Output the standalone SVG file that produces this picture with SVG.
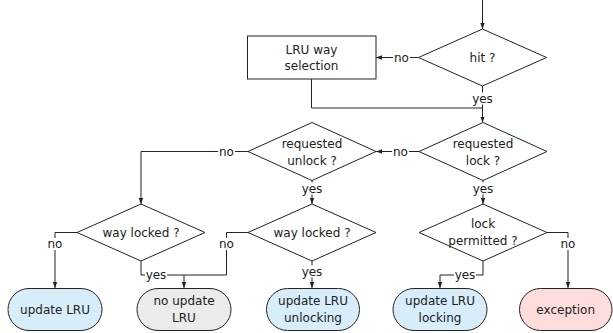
<svg xmlns="http://www.w3.org/2000/svg" width="613" height="333" viewBox="0 0 613 333">
<style>
text{font-family:"DejaVu Sans","Liberation Sans",sans-serif;font-size:12px;fill:#222;text-anchor:middle}
.shape{stroke:#222;stroke-width:1;fill:#fff}
.blue{fill:#d7edfa}
.gray{fill:#ebebeb}
.pink{fill:#fddcdc}
.conn path{fill:none;stroke:#222;stroke-width:1}
.arr{marker-end:url(#ah)}
.lbg{fill:#fff}
</style>
<defs>
<marker id="ah" viewBox="0 0 6 6" refX="6" refY="3" markerWidth="6" markerHeight="6" markerUnits="userSpaceOnUse" orient="auto">
<path d="M0,0.8 L6,3 L0,5.2 z" fill="#222"/>
</marker>
</defs>
<g id="connectors" class="conn">
<path class="arr" d="M482.5,0 V29"/>
<path class="arr" d="M418.5,57.5 H376"/>
<path class="arr" d="M482.5,86 V122.5"/>
<path d="M311.5,79 V108 H482.5"/>
<path class="arr" d="M419,151.5 H376"/>
<path class="arr" d="M248,151.5 H141 V204"/>
<path class="arr" d="M312,180 V204"/>
<path class="arr" d="M483,180 V204"/>
<path class="arr" d="M77,232.5 H55 V288"/>
<path class="arr" d="M141,261 V275 H184 V288"/>
<path d="M248,232.5 H226.5 V275 H184"/>
<path class="arr" d="M312,261 V288"/>
<path class="arr" d="M483,261 V275 H440 V288"/>
<path class="arr" d="M547,232.5 H568 V288"/>
<g id="labels">
<rect class="lbg" x="393" y="51.5" width="17" height="12"/><text x="401.5" y="61.5">no</text>
<rect class="lbg" x="471.5" y="92.5" width="22" height="12"/><text x="482.5" y="102.5">yes</text>
<rect class="lbg" x="392" y="145.5" width="17" height="12"/><text x="400.5" y="155.5">no</text>
<rect class="lbg" x="218" y="145.5" width="17" height="12"/><text x="226.5" y="155.5">no</text>
<rect class="lbg" x="301" y="182.5" width="22" height="12"/><text x="312" y="192.5">yes</text>
<rect class="lbg" x="472" y="182.5" width="22" height="12"/><text x="483" y="192.5">yes</text>
<rect class="lbg" x="46.5" y="238" width="17" height="12"/><text x="55" y="248">no</text>
<rect class="lbg" x="145" y="269" width="22" height="12"/><text x="156" y="279">yes</text>
<rect class="lbg" x="218" y="238" width="17" height="12"/><text x="226.5" y="248">no</text>
<rect class="lbg" x="301" y="265.5" width="22" height="12"/><text x="312" y="275.5">yes</text>
<rect class="lbg" x="454" y="269" width="22" height="12"/><text x="465" y="279">yes</text>
<rect class="lbg" x="559.5" y="238" width="17" height="12"/><text x="568" y="248">no</text>
</g>
</g>
<g id="hit">
<polygon class="shape" points="482.5,29 546.5,57.5 482.5,86 418.5,57.5"/>
<text x="482.5" y="62">hit ?</text>
</g>
<g id="lru-way-selection">
<rect class="shape" x="247.5" y="36" width="128.5" height="43"/>
<text x="311.5" y="54">LRU way</text>
<text x="311.5" y="70">selection</text>
</g>
<g id="requested-lock">
<polygon class="shape" points="483,122.5 547,151.5 483,180.5 419,151.5"/>
<text x="483" y="148">requested</text>
<text x="483" y="165">lock ?</text>
</g>
<g id="requested-unlock">
<polygon class="shape" points="312,122.5 376,151.5 312,180.5 248,151.5"/>
<text x="312" y="148">requested</text>
<text x="312" y="165">unlock ?</text>
</g>
<g id="way-locked-left">
<polygon class="shape" points="141,204 205,232.5 141,261 77,232.5"/>
<text x="141" y="237">way locked ?</text>
</g>
<g id="way-locked-right">
<polygon class="shape" points="312,204 376,232.5 312,261 248,232.5"/>
<text x="312" y="237">way locked ?</text>
</g>
<g id="lock-permitted">
<polygon class="shape" points="483,204 547,232.5 483,261 419,232.5"/>
<text x="483" y="228">lock</text>
<text x="483" y="245">permitted ?</text>
</g>
<g id="update-lru">
<rect class="shape blue" x="8" y="288.5" width="94" height="42" rx="21"/>
<text x="55" y="313.5">update LRU</text>
</g>
<g id="no-update-lru">
<rect class="shape gray" x="137" y="288.5" width="94" height="42" rx="21"/>
<text x="184" y="305">no update</text>
<text x="184" y="322">LRU</text>
</g>
<g id="update-lru-unlocking">
<rect class="shape blue" x="266.5" y="288.5" width="93" height="42" rx="21"/>
<text x="313" y="305">update LRU</text>
<text x="313" y="322">unlocking</text>
</g>
<g id="update-lru-locking">
<rect class="shape blue" x="393" y="288.5" width="94" height="42" rx="21"/>
<text x="440" y="305">update LRU</text>
<text x="440" y="322">locking</text>
</g>
<g id="exception">
<rect class="shape pink" x="519.5" y="288.5" width="92.5" height="42" rx="21"/>
<text x="565.7" y="313.5">exception</text>
</g>
</svg>
